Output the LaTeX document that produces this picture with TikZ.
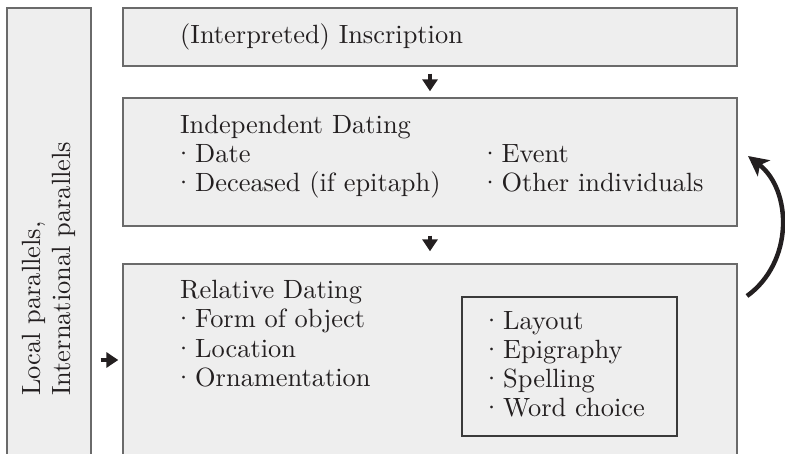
\documentclass[tikz,border=0pt]{standalone}
\usepackage{fontspec}
\setmainfont{lmroman10-regular}[Extension=.otf]
\usetikzlibrary{arrows.meta}
\definecolor{boxfill}{HTML}{EEEEEE}
\definecolor{boxline}{HTML}{6A6A6A}
\definecolor{innerline}{HTML}{3A3A3A}
\definecolor{ink}{HTML}{231F20}
\newcommand\mdot{\makebox[7pt][c]{·}\hspace{8pt}}
\tikzset{
  bigbox/.style={draw=boxline, fill=boxfill, line width=1.3pt, rectangle, inner sep=0pt},
  innerbox/.style={draw=innerline, fill=boxfill, line width=1.1pt, rectangle, inner sep=0pt},
  txt/.style={anchor=base west, inner sep=0pt, text=ink, font=\fontsize{26.4}{30}\selectfont},
  flowarrow/.style={draw=ink, line width=4.5pt, -{Triangle[length=12pt,width=15pt]}},
  cyclearrow/.style={draw=ink, line width=4.5pt, -{Stealth[length=20pt,width=20pt,inset=5pt]}}
}
\begin{document}
\begin{tikzpicture}[x=1pt,y=1pt]
\useasboundingbox (0,0) rectangle (785,-454);
\clip (0,0) rectangle (785,-454);
% boxes
\node[bigbox, minimum width=84pt, minimum height=462pt] (lb) at (49,-239) {};
\node[bigbox, minimum width=614pt, minimum height=58pt] (b1) at (430,-37) {};
\node[bigbox, minimum width=614pt, minimum height=128pt] (b2) at (430,-162) {};
\node[bigbox, minimum width=614pt, minimum height=206pt] (b3) at (430,-367) {};
\node[innerbox, minimum width=215pt, minimum height=139pt] (ib) at (569.5,-366.5) {};
% texts
\node[txt] (t1) at (180,-44) {(Interpreted) Inscription};
\node[txt] (t2) at (180,-134) {Independent Dating};
\node[txt] (t2a) at (180,-163) {\mdot Date};
\node[txt] (t2b) at (180,-192) {\mdot Deceased (if epitaph)};
\node[txt] (t2c) at (486.5,-163) {\mdot Event};
\node[txt] (t2d) at (486.5,-192) {\mdot Other individuals};
\node[txt] (t3) at (180,-299) {Relative Dating};
\node[txt] (t3a) at (180,-328) {\mdot Form of object};
\node[txt] (t3b) at (180,-358) {\mdot Location};
\node[txt] (t3c) at (180,-387) {\mdot Ornamentation};
\node[txt] (t4a) at (488,-330) {\mdot Layout};
\node[txt] (t4b) at (488,-359) {\mdot Epigraphy};
\node[txt] (t4c) at (488,-388) {\mdot Spelling};
\node[txt] (t4d) at (488,-417) {\mdot Word choice};
\node[txt, anchor=north west, rotate=90, align=left] (lt) at (22,-396) {Local parallels,\\International parallels};
% arrows
\draw[flowarrow, shorten <=7pt, shorten >=6pt] (b1.south) -- (b2.north);
\draw[flowarrow, shorten <=9pt, shorten >=12pt] (b2.south) -- (b3.north);
\draw[flowarrow, shorten <=9pt, shorten >=4pt] (lb.east |- 0,-360) -- (b3.west |- 0,-360);
\coordinate (cstart) at (747,-296);
\coordinate (cend) at (748,-156);
\draw[cyclearrow] (cstart) .. controls (794,-262) and (792,-190) .. (cend);
\end{tikzpicture}
\end{document}
